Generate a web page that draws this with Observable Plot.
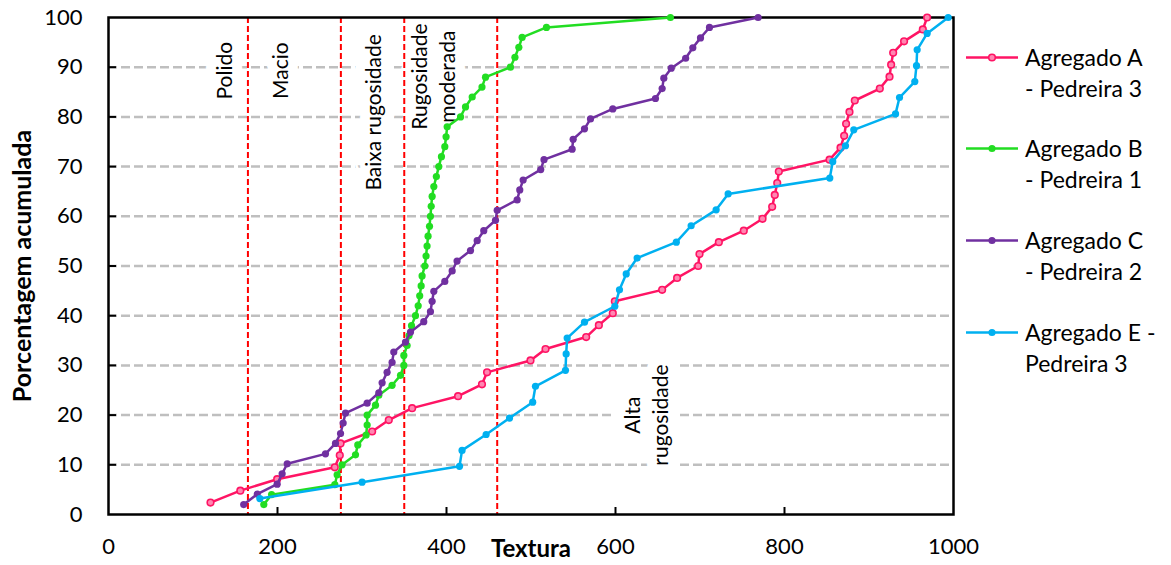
<!DOCTYPE html>
<html>
<head>
<meta charset="utf-8">
<script src="https://cdn.jsdelivr.net/npm/d3@7"></script>
<script src="https://cdn.jsdelivr.net/npm/@observablehq/plot@0.6"></script>
<style>
  html, body { margin: 0; padding: 0; background: #fff; }
  #wrap { position: relative; width: 1171px; height: 565px; font-family: Lato, "Open Sans", sans-serif; }
  .entry { position: absolute; left: 966px; display: flex; align-items: flex-start; }
  .entry .txt { margin-left: 7px; font-size: 23px; line-height: 31px; color: #000; white-space: nowrap; }
</style>
</head>
<body>
<div id="wrap"></div>
<script>
// ---------- data ----------
const seriesNames = ["Agregado A - Pedreira 3", "Agregado B - Pedreira 1", "Agregado C - Pedreira 2", "Agregado E - Pedreira 3"];
const legendLines = [["Agregado A", "- Pedreira 3"], ["Agregado B", "- Pedreira 1"], ["Agregado C", "- Pedreira 2"], ["Agregado E -", "Pedreira 3"]];
const seriesColors = ["#ff1464", "#22dd22", "#7030a0", "#00b0f0"];

const texturaA = [120.7, 156, 199.6, 267.8, 273.7, 274.6, 312, 331.7, 359.3, 413.7, 442, 448, 499.4, 517.2, 565.3, 580.3, 596.8, 599.2, 655.2, 672.9, 697.8, 699.4, 722.3, 751.8, 774, 785.4, 788.5, 791.4, 793.3, 853.3, 866.3, 870.6, 872.9, 876.9, 883.2, 912.8, 924.3, 926.2, 928.6, 941.5, 963.7, 968.8];
const porcA = [2.4, 4.8, 7.1, 9.5, 11.9, 14.3, 16.7, 19.0, 21.4, 23.8, 26.2, 28.6, 31.0, 33.3, 35.7, 38.1, 40.5, 42.9, 45.2, 47.6, 50.0, 52.4, 54.8, 57.1, 59.5, 61.9, 64.3, 66.7, 69.0, 71.4, 73.8, 76.2, 78.6, 81.0, 83.3, 85.7, 88.1, 90.5, 92.9, 95.2, 97.6, 100];

const texturaB = [183.8, 193, 267.8, 270.6, 276.4, 292.3, 295, 304.9, 306.1, 306.1, 316, 319.9, 335.6, 345.6, 349.5, 349.5, 353.4, 355.7, 358.6, 363.3, 366.5, 368.3, 370, 371.1, 374.3, 375.8, 377, 378.2, 379.9, 381, 381.9, 383, 385, 388, 390.9, 394, 398, 399.5, 400.8, 416.6, 422.5, 430.4, 442, 446.2, 475.7, 481, 485.6, 489.5, 518.3, 665];
const porcB = [2, 4, 6, 8, 10, 12, 14, 16, 18, 20, 22, 24, 26, 28, 30, 32, 34, 36, 38, 40, 42, 44, 46, 48, 50, 52, 54, 56, 58, 60, 62, 64, 66, 68, 70, 72, 74, 76, 78, 80, 82, 84, 86, 88, 90, 92, 94, 96, 98, 100];

const texturaC = [160, 176, 199.6, 205.5, 211.5, 256.8, 268.6, 274.6, 277.7, 280.5, 306.1, 319.9, 323.8, 329.7, 335.6, 337.6, 351.5, 357.4, 373.1, 381, 383, 385, 398, 406.7, 412.5, 428.4, 436.3, 444.1, 458, 460, 483.6, 486.7, 490.7, 511.5, 515.4, 548.7, 549.9, 563.3, 570.4, 596.8, 647.3, 655.2, 657.2, 666, 683, 691.5, 700.6, 711.2, 768.8];
const porcC = [2.0, 4.1, 6.1, 8.2, 10.2, 12.2, 14.3, 16.3, 18.4, 20.4, 22.4, 24.5, 26.5, 28.6, 30.6, 32.7, 34.7, 36.7, 38.8, 40.8, 42.9, 44.9, 46.9, 49.0, 51.0, 53.1, 55.1, 57.1, 59.2, 61.2, 63.3, 65.3, 67.3, 69.4, 71.4, 73.5, 75.5, 77.6, 79.6, 81.6, 83.7, 85.7, 87.8, 89.8, 91.8, 93.9, 95.9, 98.0, 100];

const texturaE = [179.1, 300.1, 415.4, 418.4, 446.9, 474.6, 502, 505.3, 540.8, 541.6, 542.8, 563.3, 599.2, 604.7, 612.7, 625.6, 672, 689.5, 719.1, 733.3, 853.6, 857.1, 872.2, 882, 931.4, 936.1, 954.2, 956.2, 957, 968.8, 993.7];
const porcE = [3.2, 6.5, 9.7, 12.9, 16.1, 19.4, 22.6, 25.8, 29.0, 32.3, 35.5, 38.7, 41.9, 45.2, 48.4, 51.6, 54.8, 58.1, 61.3, 64.5, 67.7, 71.0, 74.2, 77.4, 80.6, 83.9, 87.1, 90.3, 93.5, 96.8, 100];

const xTicks = [0, 200, 400, 600, 800, 1000];
const yTicks = [0, 10, 20, 30, 40, 50, 60, 70, 80, 90, 100];
const classBounds = [165, 275, 350, 460];
const classText = ["Polido", "Macio", "Baixa rugosidade", "Rugosidade\nmoderada", "Alta\nrugosidade"];
const classX = [135, 202, 312, 383, 635];
const classY = [89.3, 89.3, 80.9, 88.1, 20];
const xTitle = "Textura";
const yTitle = "Porcentagem acumulada";

// ---------- build ----------
const seriesX = [texturaA, texturaB, texturaC, texturaE];
const seriesY = [porcA, porcB, porcC, porcE];
const rows = seriesX.flatMap((xs, s) => xs.map((x, i) => ({serie: seriesNames[s], x, y: seriesY[s][i]})));
const labels = classText.map((t, i) => ({t, x: classX[i], y: classY[i]}));

const W = 1171, H = 565, mL = 108, mR = 218, mT = 17, mB = 51;
const plotW = W - mL - mR, plotH = H - mT - mB;
const FONT = "Lato, 'Open Sans', sans-serif";

const marks = [
  Plot.gridY(yTicks.filter(d => d > 0 && d < 100), {stroke: "#bfbfbf", strokeOpacity: 1, strokeWidth: 2.5, strokeDasharray: "9,4"}),
  Plot.text(labels, {x: "x", y: "y", text: "t", rotate: -90, fontSize: 21, lineHeight: 1.35, fill: "black", stroke: "white", strokeWidth: 20, textAnchor: "middle", lineAnchor: "middle"}),
  Plot.ruleX(classBounds, {stroke: "#ff0000", strokeWidth: 2, strokeDasharray: "6,3"}),
  Plot.gridY(yTicks.filter(d => d > 0 && d < 100), {stroke: "black", strokeOpacity: 1, strokeWidth: 2, insetRight: plotW - 8}),
  Plot.gridX(xTicks.filter(d => d > 0 && d < 1000), {stroke: "black", strokeOpacity: 1, strokeWidth: 2, insetTop: plotH - 7}),
  Plot.frame({stroke: "black", strokeWidth: 2.5}),
  Plot.axisX(xTicks, {tickSize: 0, tickPadding: 24, fontSize: 22, label: null, tickFormat: d => String(d)}),
  Plot.axisY(yTicks, {tickSize: 0, tickPadding: 26, fontSize: 22, label: null, tickFormat: d => String(d)}),
  Plot.text([xTitle], {frameAnchor: "bottom", dy: 35, fontSize: 24, fontWeight: "bold", lineAnchor: "middle"}),
  Plot.text([yTitle], {frameAnchor: "left", dx: -86, rotate: -90, fontSize: 25, fontWeight: "bold", textAnchor: "middle", lineAnchor: "middle"})
];
seriesNames.forEach((name, s) => {
  const d = rows.filter(r => r.serie === name);
  marks.push(Plot.line(d, {x: "x", y: "y", stroke: seriesColors[s], strokeWidth: 2.5}));
  if (s === 0) {
    marks.push(Plot.dot(d, {x: "x", y: "y", r: 3.3, fill: "#ff86b1", stroke: seriesColors[s], strokeWidth: 1.6}));
  } else {
    marks.push(Plot.dot(d, {x: "x", y: "y", r: 3.6, fill: seriesColors[s], stroke: "none"}));
  }
});

const chart = Plot.plot({
  width: W, height: H,
  marginLeft: mL, marginRight: mR, marginTop: mT, marginBottom: mB,
  x: {domain: [0, 1000]},
  y: {domain: [0, 100]},
  style: {fontFamily: FONT, color: "black", background: "white", overflow: "visible"},
  marks
});
const wrap = document.getElementById("wrap");
wrap.appendChild(chart);

// legend (HTML)
const tops = [41.5, 132.5, 224.5, 316.5];
legendLines.forEach((lines, s) => {
  const e = document.createElement("div");
  e.className = "entry";
  e.style.top = tops[s] + "px";
  const c = seriesColors[s];
  const dot = s === 0
    ? `<circle cx="26" cy="15.5" r="3.3" fill="#ff86b1" stroke="${c}" stroke-width="1.6"/>`
    : `<circle cx="26" cy="15.5" r="3.6" fill="${c}"/>`;
  e.innerHTML = `<svg width="52" height="31"><line x1="0" x2="52" y1="15.5" y2="15.5" stroke="${c}" stroke-width="2.5"/>${dot}</svg><div class="txt">${lines.join("<br>")}</div>`;
  wrap.appendChild(e);
});
</script>
</body>
</html>
